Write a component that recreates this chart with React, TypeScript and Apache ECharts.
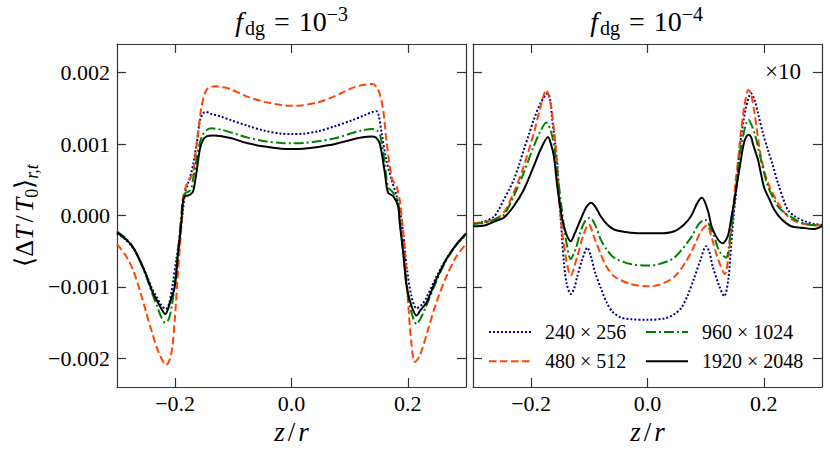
import React, { useEffect, useRef } from "react";
import * as echarts from "echarts";

// ---------- data (y values in units of 1e-3; right panel values are shown x10) ----------
const seriesNames = ["240 × 256", "480 × 512", "960 × 1024", "1920 × 2048"];

const xTicks = [-0.2, 0, 0.2];
const xTickLabels = ["−0.2", "0.0", "0.2"];
const yTicks = [-2, -1, 0, 1, 2];
const yTickLabels = ["−0.002", "−0.001", "0.000", "0.001", "0.002"];

const titleLeft = "−3";
const titleRight = "−4";
const scaleNote = "×10";

// f_dg = 1e-3 panel
const left240: number[][] = [
  [-0.3, -0.25], [-0.285, -0.34], [-0.272, -0.46], [-0.26, -0.64], [-0.249, -0.84], [-0.24, -1.02],
  [-0.232, -1.14], [-0.224, -1.25], [-0.216, -1.31], [-0.21, -1.22], [-0.2035, -0.92], [-0.198, -0.61],
  [-0.192, -0.29], [-0.1864, 0.08], [-0.1834, 0.3], [-0.178, 0.45], [-0.173, 0.58], [-0.169, 0.72],
  [-0.163, 1.01], [-0.1577, 1.32], [-0.152, 1.43], [-0.147, 1.45], [-0.1375, 1.42], [-0.12, 1.38],
  [-0.103, 1.33], [-0.075, 1.255], [-0.046, 1.185], [-0.017, 1.145], [0, 1.14], [0.02, 1.145],
  [0.046, 1.18], [0.075, 1.25], [0.103, 1.33], [0.125, 1.4], [0.146, 1.46], [0.15, 1.4],
  [0.155, 1.15], [0.163, 0.78], [0.172, 0.5], [0.1805, 0.28], [0.189, -0.06], [0.194, -0.4],
  [0.198, -0.72], [0.206, -1.12], [0.215, -1.3], [0.225, -1.24], [0.232, -1.15], [0.249, -0.86],
  [0.2665, -0.6], [0.2837, -0.41], [0.3, -0.27],
];
const left480: number[][] = [
  [-0.3, -0.4], [-0.285, -0.56], [-0.272, -0.77], [-0.26, -1.07], [-0.25, -1.35], [-0.24, -1.63],
  [-0.231, -1.86], [-0.2235, -2.0], [-0.216, -2.09], [-0.21, -2.03], [-0.205, -1.85], [-0.2006, -1.45],
  [-0.1965, -0.95], [-0.192, -0.45], [-0.188, 0.0], [-0.1864, 0.25], [-0.1805, 0.43], [-0.175, 0.5],
  [-0.169, 0.62], [-0.1662, 0.78], [-0.1606, 1.15], [-0.1547, 1.52], [-0.146, 1.76], [-0.132, 1.81],
  [-0.115, 1.79], [-0.103, 1.76], [-0.0746, 1.66], [-0.046, 1.59], [-0.017, 1.545], [0, 1.535],
  [0.017, 1.54], [0.046, 1.585], [0.0716, 1.66], [0.09, 1.73], [0.106, 1.79], [0.125, 1.83],
  [0.139, 1.84], [0.149, 1.76], [0.1575, 1.48], [0.163, 1.06], [0.169, 0.69], [0.1736, 0.5],
  [0.1805, 0.41], [0.186, 0.22], [0.1905, -0.1], [0.195, -0.52], [0.2005, -1.22], [0.206, -1.78],
  [0.212, -2.05], [0.2206, -1.96], [0.235, -1.59], [0.249, -1.22], [0.2665, -0.85], [0.2837, -0.57],
  [0.3, -0.4],
];
const left960: number[][] = [
  [-0.3, -0.22], [-0.285, -0.32], [-0.272, -0.45], [-0.26, -0.65], [-0.249, -0.87], [-0.24, -1.08],
  [-0.232, -1.25], [-0.224, -1.42], [-0.217, -1.5], [-0.211, -1.45], [-0.2055, -1.25], [-0.2006, -0.95],
  [-0.195, -0.5], [-0.192, -0.22], [-0.189, 0.05], [-0.1864, 0.24], [-0.183, 0.31], [-0.178, 0.33],
  [-0.173, 0.36], [-0.169, 0.52], [-0.1634, 0.78], [-0.1577, 1.01], [-0.152, 1.14], [-0.145, 1.2],
  [-0.138, 1.22], [-0.12, 1.2], [-0.103, 1.16], [-0.075, 1.09], [-0.046, 1.04], [-0.017, 1.015],
  [0, 1.01], [0.02, 1.015], [0.046, 1.04], [0.075, 1.08], [0.103, 1.15], [0.12, 1.19], [0.138, 1.21],
  [0.147, 1.19], [0.153, 1.1], [0.1604, 0.72], [0.166, 0.4], [0.1747, 0.32], [0.1833, 0.18],
  [0.186, -0.05], [0.192, -0.5], [0.198, -1.0], [0.206, -1.35], [0.215, -1.52], [0.222, -1.44],
  [0.232, -1.26], [0.249, -0.92], [0.2665, -0.62], [0.2837, -0.41], [0.3, -0.26],
];
const left1920: number[][] = [
  [-0.3, -0.24], [-0.285, -0.33], [-0.272, -0.45], [-0.26, -0.64], [-0.249, -0.85], [-0.24, -1.05],
  [-0.232, -1.18], [-0.224, -1.3], [-0.217, -1.38], [-0.209, -1.22], [-0.2006, -0.99], [-0.195, -0.52],
  [-0.192, -0.3], [-0.189, -0.05], [-0.1864, 0.2], [-0.183, 0.27], [-0.1777, 0.28], [-0.173, 0.3],
  [-0.169, 0.34], [-0.1634, 0.6], [-0.1577, 0.92], [-0.152, 1.06], [-0.145, 1.11], [-0.135, 1.12],
  [-0.12, 1.11], [-0.103, 1.08], [-0.075, 1.01], [-0.046, 0.965], [-0.017, 0.935], [0, 0.93],
  [0.02, 0.935], [0.046, 0.96], [0.075, 1.0], [0.103, 1.06], [0.12, 1.09], [0.1375, 1.105],
  [0.145, 1.09], [0.152, 1.0], [0.1604, 0.6], [0.166, 0.32], [0.1747, 0.27], [0.1833, 0.13],
  [0.186, -0.1], [0.192, -0.52], [0.198, -0.99], [0.206, -1.26], [0.215, -1.4], [0.222, -1.32],
  [0.232, -1.22], [0.249, -0.89], [0.2665, -0.61], [0.2837, -0.4], [0.3, -0.25],
];

// f_dg = 1e-4 panel (values as displayed, x10)
const right240: number[][] = [
  [-0.3, -0.11], [-0.283, -0.09], [-0.2644, -0.02], [-0.256, 0.08], [-0.247, 0.22], [-0.238, 0.36],
  [-0.23, 0.5], [-0.221, 0.7], [-0.2127, 0.92], [-0.204, 1.13], [-0.1955, 1.34], [-0.184, 1.57],
  [-0.1713, 1.71], [-0.167, 1.6], [-0.1638, 1.34], [-0.159, 1.02], [-0.155, 0.7], [-0.151, 0.15],
  [-0.147, -0.3], [-0.1437, -0.66], [-0.139, -0.95], [-0.132, -1.1], [-0.126, -1.02], [-0.1207, -0.85],
  [-0.112, -0.61], [-0.1034, -0.45], [-0.097, -0.58], [-0.09, -0.8], [-0.08, -1.02], [-0.07, -1.22],
  [-0.06, -1.35], [-0.045, -1.43], [-0.03, -1.45], [0, -1.46], [0.03, -1.44], [0.046, -1.38],
  [0.0574, -1.3], [0.069, -1.12], [0.08, -0.88], [0.092, -0.6], [0.1005, -0.43], [0.106, -0.5],
  [0.112, -0.71], [0.1235, -0.99], [0.132, -1.13], [0.139, -0.89], [0.1437, -0.43], [0.148, 0.0],
  [0.1523, 0.32], [0.157, 0.8], [0.161, 1.1], [0.1695, 1.52], [0.178, 1.71], [0.184, 1.62],
  [0.19, 1.43], [0.1985, 1.15], [0.207, 0.92], [0.2155, 0.7], [0.224, 0.46], [0.241, 0.08],
  [0.253, -0.01], [0.27, -0.08], [0.287, -0.12], [0.3, -0.13],
];
const right480: number[][] = [
  [-0.3, -0.11], [-0.28, -0.09], [-0.262, -0.05], [-0.247, 0.04], [-0.23, 0.32], [-0.2127, 0.69],
  [-0.1955, 1.15], [-0.184, 1.52], [-0.1741, 1.757], [-0.1667, 1.57], [-0.158, 0.97], [-0.1495, 0.0],
  [-0.1409, -0.57], [-0.132, -0.84], [-0.1207, -0.57], [-0.109, -0.24], [-0.1007, -0.125], [-0.092, -0.3],
  [-0.0805, -0.54], [-0.07, -0.72], [-0.0575, -0.85], [-0.0288, -0.96], [0, -0.99], [0.02, -0.97],
  [0.046, -0.86], [0.065, -0.66], [0.08, -0.43], [0.092, -0.22], [0.102, -0.14], [0.11, -0.3],
  [0.12, -0.58], [0.133, -0.82], [0.14, -0.5], [0.146, -0.05], [0.151, 0.45], [0.155, 0.72],
  [0.161, 1.2], [0.167, 1.55], [0.1735, 1.757], [0.178, 1.7], [0.184, 1.43], [0.195, 0.83],
  [0.207, 0.46], [0.224, 0.18], [0.241, -0.01], [0.26, -0.1], [0.28, -0.13], [0.3, -0.14],
];
const right960: number[][] = [
  [-0.3, -0.12], [-0.28, -0.1], [-0.262, -0.05], [-0.247, 0.01], [-0.23, 0.27], [-0.2127, 0.6],
  [-0.1955, 0.97], [-0.184, 1.18], [-0.1741, 1.3], [-0.1638, 1.11], [-0.155, 0.6], [-0.1466, 0.04],
  [-0.14, -0.35], [-0.132, -0.61], [-0.1236, -0.47], [-0.118, -0.31], [-0.109, -0.1], [-0.099, -0.03],
  [-0.089, -0.15], [-0.0805, -0.335], [-0.07, -0.48], [-0.0575, -0.59], [-0.0288, -0.68], [0, -0.7],
  [0.02, -0.68], [0.046, -0.59], [0.0747, -0.31], [0.088, -0.12], [0.0988, -0.06], [0.112, -0.24],
  [0.1235, -0.5], [0.135, -0.59], [0.142, -0.3], [0.149, 0.13], [0.155, 0.6], [0.161, 0.97],
  [0.1735, 1.34], [0.184, 1.15], [0.195, 0.78], [0.207, 0.41], [0.224, 0.13], [0.2356, 0.04],
  [0.255, -0.06], [0.276, -0.125], [0.3, -0.14],
];
const right1920: number[][] = [
  [-0.3, -0.15], [-0.28, -0.14], [-0.262, -0.08], [-0.247, -0.03], [-0.23, 0.13], [-0.2127, 0.36],
  [-0.1955, 0.69], [-0.184, 0.92], [-0.171, 1.1], [-0.166, 1.0], [-0.161, 0.83], [-0.155, 0.4],
  [-0.1466, -0.05], [-0.14, -0.25], [-0.1322, -0.36], [-0.125, -0.25], [-0.115, -0.056], [-0.105, 0.12],
  [-0.0966, 0.18], [-0.088, 0.1], [-0.0805, -0.01], [-0.07, -0.12], [-0.0575, -0.195], [-0.0288, -0.24],
  [0, -0.25], [0.02, -0.25], [0.046, -0.22], [0.063, -0.125], [0.0747, -0.01], [0.086, 0.18],
  [0.0936, 0.247], [0.1034, 0.08], [0.112, -0.195], [0.129, -0.39], [0.138, -0.29], [0.1436, -0.056],
  [0.15, 0.25], [0.155, 0.5], [0.16, 0.75], [0.166, 1.02], [0.1735, 1.13], [0.178, 1.1],
  [0.181, 1.01], [0.186, 0.88], [0.19, 0.78], [0.196, 0.55], [0.201, 0.38], [0.21, 0.22],
  [0.218, 0.08], [0.23, -0.05], [0.247, -0.15], [0.265, -0.17], [0.287, -0.19], [0.3, -0.15],
];

const leftData = [left240, left480, left960, left1920];
const rightData = [right240, right480, right960, right1920];

// ---------- styles ----------
const FONT = "Liberation Serif";
const AXIS_COLOR = "#333";
const lineStyles: { color: string; type: any }[] = [
  { color: "#00008b", type: [2, 2] },
  { color: "#ff4500", type: [7.5, 3.5] },
  { color: "#008000", type: [10, 3, 2, 3] },
  { color: "#000000", type: "solid" },
];

const labelFor = (ticks: number[], labels: string[]) => (v: number) => {
  const i = ticks.findIndex((t) => Math.abs(t - v) < 1e-9);
  return i >= 0 ? labels[i] : "";
};

const frame = { show: true, onZero: false, lineStyle: { color: AXIS_COLOR, width: 1.2 } };
const ticksOf = (vals: number[]) => ({
  show: true,
  inside: true,
  length: 9,
  customValues: vals,
  lineStyle: { color: AXIS_COLOR, width: 1.2 },
});

const tok = (size: number, extra: any = {}) => ({
  fontFamily: FONT, fontSize: size, fontWeight: "normal", lineHeight: 34, color: "#000", ...extra,
});
const mathRich = (size: number, eqPad = 8) => {
  const s = Math.round(size * 0.7);
  return {
    n: tok(size),
    i: tok(size, { fontStyle: "italic" }),
    fi: tok(size, { fontStyle: "italic", padding: [0, 2, 0, 0] }),
    eq: tok(size, { padding: [0, eqPad, 0, eqPad] }),
    sl: tok(size, { padding: [0, 3, 0, 3] }),
    sup: tok(s, { lineHeight: 23, verticalAlign: "top" }),
    sub: tok(s, { lineHeight: 21, verticalAlign: "bottom" }),
    subi: tok(s, { lineHeight: 21, verticalAlign: "bottom", fontStyle: "italic" }),
  };
};

const xName = "{i|z}{sl|/}{i|r}";
const yName = "{n|⟨Δ}{i|T}{sl|/}{i|T}{sub|0}{n|⟩}{subi|r,t}";

function buildOption() {
  const grids = [
    { left: 117, top: 44, width: 349, height: 343, containLabel: false, outerBoundsMode: "none" },
    { left: 473, top: 44, width: 349, height: 343, containLabel: false, outerBoundsMode: "none" },
  ];
  const xAxis: any[] = [];
  const yAxis: any[] = [];
  [0, 1].forEach((g) => {
    xAxis.push({
      gridIndex: g, type: "value", min: -0.3, max: 0.3, position: "bottom",
      axisLine: frame, axisTick: ticksOf(xTicks),
      axisLabel: {
        customValues: xTicks, formatter: labelFor(xTicks, xTickLabels),
        fontFamily: FONT, fontSize: 22, color: "#000", margin: 5,
      },
      splitLine: { show: false },
      name: xName, nameLocation: "middle", nameGap: 24,
      nameTextStyle: { fontFamily: FONT, rich: mathRich(27) },
    });
    xAxis.push({
      gridIndex: g, type: "value", min: -0.3, max: 0.3, position: "top",
      axisLine: frame, axisTick: ticksOf(xTicks), axisLabel: { show: false }, splitLine: { show: false },
    });
    yAxis.push({
      gridIndex: g, type: "value", min: -2.4, max: 2.4, position: "left",
      axisLine: frame, axisTick: ticksOf(yTicks),
      axisLabel: g === 0
        ? { customValues: yTicks, formatter: labelFor(yTicks, yTickLabels), fontFamily: FONT, fontSize: 22, color: "#000", margin: 7 }
        : { show: false },
      splitLine: { show: false },
      ...(g === 0
        ? { name: yName, nameLocation: "middle", nameGap: 76, nameTextStyle: { fontFamily: FONT, rich: mathRich(26) } }
        : {}),
    });
    yAxis.push({
      gridIndex: g, type: "value", min: -2.4, max: 2.4, position: "right",
      axisLine: frame, axisTick: ticksOf(yTicks), axisLabel: { show: false }, splitLine: { show: false },
    });
  });

  const series: any[] = [];
  [leftData, rightData].forEach((panel, p) => {
    panel.forEach((d, k) => {
      series.push({
        type: "line",
        name: seriesNames[k],
        xAxisIndex: p * 2,
        yAxisIndex: p * 2,
        data: d,
        symbol: "none",
        showSymbol: false,
        smooth: 0.3,
        z: 2 + k,
        lineStyle: { color: lineStyles[k].color, width: 2, type: lineStyles[k].type },
        itemStyle: { color: lineStyles[k].color, opacity: 0 },
      });
    });
  });

  const legendCommon = {
    orient: "vertical",
    top: 322,
    padding: 0,
    itemWidth: 42,
    itemHeight: 2,
    itemGap: 9.3,
    selectedMode: false,
    textStyle: { fontFamily: FONT, fontSize: 20, color: "#000", padding: [0, 0, 0, 9] },
  };

  const titleStyle = { fontFamily: FONT, fontWeight: "normal", fontSize: 28, rich: mathRich(28, 9) };

  return {
    animation: false,
    backgroundColor: "#fff",
    textStyle: { fontFamily: FONT },
    grid: grids,
    xAxis,
    yAxis,
    series,
    title: [
      {
        text: `{fi|f}{sub|dg}{eq|=}{n|10}{sup|${titleLeft}}`,
        left: 291.7, top: 4, textAlign: "center", padding: 0,
        textStyle: titleStyle,
      },
      {
        text: `{fi|f}{sub|dg}{eq|=}{n|10}{sup|${titleRight}}`,
        left: 646.7, top: 4, textAlign: "center", padding: 0,
        textStyle: titleStyle,
      },
      {
        text: scaleNote,
        right: 29, top: 60, padding: 0,
        textStyle: { fontFamily: FONT, fontWeight: "normal", fontSize: 23, color: "#000" },
      },
    ],
    legend: [
      { ...legendCommon, left: 488, data: [seriesNames[0], seriesNames[1]] },
      { ...legendCommon, left: 645, data: [seriesNames[2], seriesNames[3]] },
    ],
  };
}

export default function App() {
  const ref = useRef<HTMLDivElement>(null);
  useEffect(() => {
    if (!ref.current) return;
    const chart = echarts.init(ref.current, null, { renderer: "svg" });
    chart.setOption(buildOption() as any);
    return () => chart.dispose();
  }, []);
  return (
    <div
      ref={ref}
      style={{ position: "fixed", left: 0, top: 0, width: 830, height: 454, background: "#fff" }}
    />
  );
}
